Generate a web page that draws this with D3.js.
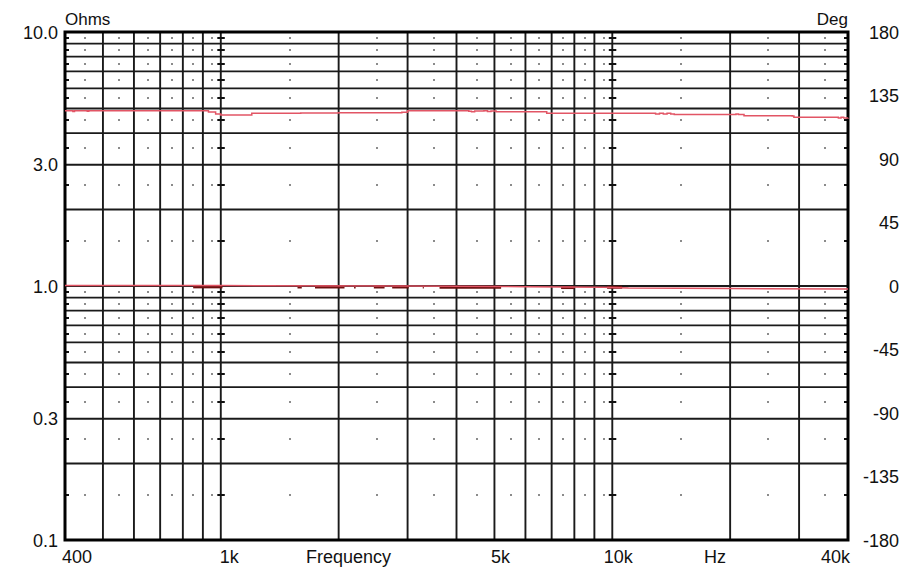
<!DOCTYPE html>
<html><head><meta charset="utf-8">
<script src="https://cdn.jsdelivr.net/npm/d3@7/dist/d3.min.js"></script>
<style>
html,body{margin:0;padding:0;background:#fff;}
text{font-family:"Liberation Sans",Arial,sans-serif;fill:#111;}
</style></head>
<body>
<svg id="chart" width="911" height="579"></svg>
<script>
// ---- data ----
const impFreq = [400,415,419,423,450,456,460,900,930,970,1000,1150,1200,1600,2000,2900,3000,4000,4300,4370,4450,4700,4800,4900,5050,6600,6800,10000,12700,12900,13200,13500,13800,14100,14400,20400,20700,21000,21700,28800,29100,37200,37800,38400,39000,40000];
const impOhms = [4.90,4.90,4.86,4.90,4.90,4.87,4.90,4.90,4.84,4.76,4.71,4.71,4.79,4.80,4.81,4.83,4.90,4.90,4.88,4.85,4.89,4.90,4.86,4.89,4.85,4.85,4.79,4.79,4.79,4.76,4.79,4.76,4.79,4.75,4.73,4.73,4.76,4.73,4.68,4.67,4.62,4.62,4.59,4.62,4.59,4.60];
const phaseFreq = [400,1000,3000,6000,9500,11000,20000,40000];
const phaseDeg  = [0.3,0.3,0.0,-0.5,-0.8,-1.5,-1.8,-2.1];
const darkSegStart = [850,1570,1740,2190,2460,2740,3280,3620,7400,9700];
const darkSegEnd   = [1010,1610,2070,2210,2620,3020,3300,5200,8000,10600];
const darkSegDeg   = [-0.6,-0.7,-0.7,-0.7,-0.7,-0.7,-0.7,-0.9,-1.1,-0.9];
const xGridFreq = [500,600,700,800,900,1000,2000,3000,4000,5000,6000,7000,8000,9000,10000,20000,30000];
const xDotFreq = [450,550,650,750,850,950,1500,2500,3500,4500,5500,6500,7500,8500,9500,15000,25000,35000];
const yGridOhms = [0.2,0.3,0.4,0.5,0.6,0.7,0.8,0.9,1,2,3,4,5,6,7,8,9];
const yDotOhms = [0.15,0.25,0.35,0.45,0.55,0.65,0.75,0.85,0.95,1.5,2.5,3.5,4.5,5.5,6.5,7.5,8.5,9.5];
const tickMarkFreq = [1000,10000];
const yTickOhms = [10,3,1,0.3,0.1];
const yTickOhmLabels = ["10.0","3.0","1.0","0.3","0.1"];
const yTickDeg = [180,135,90,45,0,-45,-90,-135,-180];
const xTickFreq = [400,1000,5000,10000,40000];
const xTickLabels = ["400","1k","5k","10k","40k"];
const xTitles = ["Frequency","Hz"];
const xTitleFreq = [2120,18300];

// ---- layout ----
const L=65, T=32, W=783, H=508;
const svg = d3.select("#chart");
const x = d3.scaleLog().domain([400,40000]).range([L,L+W]);
const y = d3.scaleLog().domain([0.1,10]).range([T+H,T]);
const yd = d3.scaleLinear().domain([-180,180]).range([T+H,T]);

const g = svg.append("g");
// grid
g.selectAll("line.vx").data(xGridFreq).join("line")
  .attr("x1",d=>x(d)).attr("x2",d=>x(d)).attr("y1",T).attr("y2",T+H)
  .attr("stroke","#1a1a1a").attr("stroke-width",1.9);
g.selectAll("line.hy").data(yGridOhms).join("line")
  .attr("y1",d=>y(d)).attr("y2",d=>y(d)).attr("x1",L).attr("x2",L+W)
  .attr("stroke","#1a1a1a").attr("stroke-width",1.9);
// dots
const dots=[];
xDotFreq.forEach(f=>yDotOhms.forEach(o=>dots.push([f,o])));
g.selectAll("rect.dot").data(dots).join("rect")
  .attr("x",d=>Math.round(x(d[0]))-0.75).attr("y",d=>Math.round(y(d[1]))-0.75)
  .attr("width",1.5).attr("height",1.5).attr("fill","#333");
// short ticks on 1k/10k lines
const tks=[];
tickMarkFreq.forEach(f=>yDotOhms.forEach(o=>tks.push([f,o])));
g.selectAll("line.tk").data(tks).join("line")
  .attr("x1",d=>x(d[0])-3.5).attr("x2",d=>x(d[0])+4)
  .attr("y1",d=>Math.round(y(d[1]))).attr("y2",d=>Math.round(y(d[1])))
  .attr("stroke","#111").attr("stroke-width",2);
// border ticks
g.selectAll("line.lt").data(yDotOhms).join("line")
  .attr("x1",L).attr("x2",L+4).attr("y1",d=>Math.round(y(d))).attr("y2",d=>Math.round(y(d)))
  .attr("stroke","#111").attr("stroke-width",2);
g.selectAll("line.rt").data(yDotOhms).join("line")
  .attr("x1",L+W-4).attr("x2",L+W).attr("y1",d=>Math.round(y(d))).attr("y2",d=>Math.round(y(d)))
  .attr("stroke","#111").attr("stroke-width",2);
// border
g.append("rect").attr("x",L).attr("y",T).attr("width",W).attr("height",H)
  .attr("fill","none").attr("stroke","#000").attr("stroke-width",3);

// dark phase segments (under)
const segLine = d3.line().x(d=>x(d[0])).y(d=>yd(d[1]));
darkSegStart.forEach((s,i)=>{
  g.append("path").attr("d",segLine([[s,darkSegDeg[i]],[darkSegEnd[i],darkSegDeg[i]]]))
   .attr("fill","none").attr("stroke","#6e1010").attr("stroke-width",3);
});
// phase
g.append("path").datum(phaseFreq.map((f,i)=>[f,phaseDeg[i]]))
  .attr("d",d3.line().x(d=>x(d[0])).y(d=>yd(d[1])))
  .attr("fill","none").attr("stroke","#e25565").attr("stroke-width",1.5);
// impedance
g.append("path").datum(impFreq.map((f,i)=>[f,impOhms[i]]))
  .attr("d",d3.line().x(d=>x(d[0])).y(d=>y(d[1])).curve(d3.curveStepAfter))
  .attr("fill","none").attr("stroke","#e25565").attr("stroke-width",1.5);

// labels
const fs=18;
svg.selectAll("text.yl").data(yTickOhms).join("text")
  .attr("x",L-7).attr("y",d=>y(d)+6.5).attr("text-anchor","end")
  .attr("font-size",fs).text((d,i)=>yTickOhmLabels[i]);
svg.selectAll("text.yr").data(yTickDeg).join("text")
  .attr("x",899).attr("y",d=>yd(d)+6.5).attr("text-anchor","end")
  .attr("font-size",fs).text(d=>String(d));
svg.selectAll("text.xl").data(xTickFreq).join("text")
  .attr("x",(d,i)=> i===0? x(d)-3 : i===4? x(d)+2 : i===1? x(d)-1 : x(d)+6)
  .attr("y",563)
  .attr("text-anchor",(d,i)=> i===0||i===1? "start" : i===4? "end":"middle")
  .attr("font-size",fs).text((d,i)=>xTickLabels[i]);
svg.selectAll("text.xt").data(xTitles).join("text")
  .attr("x",(d,i)=>x(xTitleFreq[i])).attr("y",563).attr("text-anchor","middle")
  .attr("font-size",fs).text(d=>d);
svg.append("text").attr("x",L).attr("y",25).attr("font-size",17).text("Ohms");
svg.append("text").attr("x",L+W).attr("y",25).attr("text-anchor","end").attr("font-size",17).text("Deg");
</script>
</body></html>
